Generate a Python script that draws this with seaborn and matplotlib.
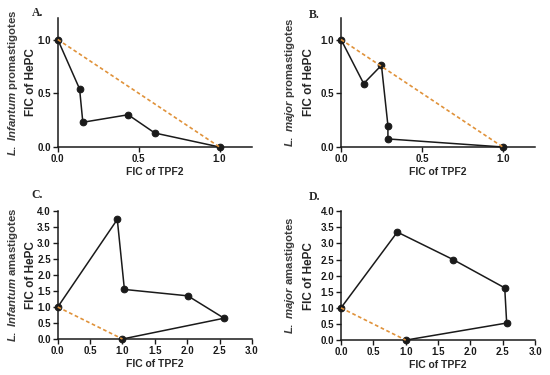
import matplotlib
matplotlib.use("Agg")
import matplotlib.pyplot as plt
import pandas as pd
import seaborn as sns

# isobologram points, in drawing order (FIC of TPF2, FIC of HePC)
a_x = [0.0, 0.135, 0.155, 0.435, 0.60, 1.0]
a_y = [1.0, 0.54, 0.23, 0.30, 0.13, 0.0]
b_x = [0.0, 0.14, 0.25, 0.29, 0.29, 1.0]
b_y = [1.0, 0.59, 0.76, 0.20, 0.075, 0.0]
c_x = [0.0, 0.92, 1.03, 2.01, 2.57, 1.0]
c_y = [1.0, 3.74, 1.55, 1.35, 0.65, 0.0]
d_x = [0.0, 0.87, 1.73, 2.53, 2.56, 1.0]
d_y = [1.0, 3.35, 2.50, 1.62, 0.53, 0.0]

additive_x = [0.0, 1.0]
additive_y = [1.0, 0.0]

panel_letters = ["A.", "B.", "C.", "D."]
species = ["Infantum", "major", "Infantum", "major"]
stages = ["promastigotes", "promastigotes", "amastigotes", "amastigotes"]

sns.set_style("ticks")
plt.rcParams["font.family"] = ["Liberation Sans", "DejaVu Sans"]
plt.rcParams["mathtext.fontset"] = "custom"
plt.rcParams["mathtext.it"] = "Liberation Sans:italic:bold"
plt.rcParams["mathtext.rm"] = "Liberation Sans:bold"

fig = plt.figure(figsize=(5.5, 3.75), dpi=100)
boxes = [
    (0.105, 0.608, 0.353, 0.344),
    (0.620, 0.608, 0.353, 0.344),
    (0.105, 0.096, 0.353, 0.341),
    (0.620, 0.093, 0.353, 0.344),
]
series = [(a_x, a_y), (b_x, b_y), (c_x, c_y), (d_x, d_y)]
species_x = [-0.232, -0.263, -0.232, -0.263]
ylabel_x = [-0.108, -0.134, -0.108, -0.134]
letter_pos = [(-0.077, 1.04), (-0.108, 1.02), (-0.077, 1.125), (-0.108, 1.11)]

for i, (box, (xs, ys)) in enumerate(zip(boxes, series)):
    ax = fig.add_axes(box)
    df = pd.DataFrame({"x": xs, "y": ys})
    sns.lineplot(data=df, x="x", y="y", sort=False, estimator=None, color="#1a1a1a",
                 lw=1.1, marker="o", markersize=4.8, markeredgecolor="#1a1a1a", ax=ax,
                 clip_on=False, zorder=3)
    add = pd.DataFrame({"x": additive_x, "y": additive_y})
    sns.lineplot(data=add, x="x", y="y", sort=False, estimator=None, color="#E0923A",
                 lw=1.2, ax=ax, clip_on=False, zorder=4)
    ax.lines[-1].set_linestyle((0, (2.2, 1.6)))
    if i < 2:
        ax.set_xlim(0, 1.2)
        ax.set_ylim(0, 1.2)
        ax.set_xticks([0.0, 0.5, 1.0])
        ax.set_yticks([0.0, 0.5, 1.0])
    else:
        ax.set_xlim(0, 3.0)
        ax.set_ylim(0, 4.0)
        ax.set_xticks([0.0, 0.5, 1.0, 1.5, 2.0, 2.5, 3.0])
        ax.set_yticks([0.0, 0.5, 1.0, 1.5, 2.0, 2.5, 3.0, 3.5, 4.0])
    ax.xaxis.set_major_formatter(matplotlib.ticker.FormatStrFormatter("%.1f"))
    ax.yaxis.set_major_formatter(matplotlib.ticker.FormatStrFormatter("%.1f"))
    sns.despine(ax=ax)
    for s in ["left", "bottom"]:
        ax.spines[s].set_linewidth(1.1)
        ax.spines[s].set_color("#1a1a1a")
    ax.tick_params(length=3.5, width=1.0, labelsize=7, pad=1.5, colors="#1a1a1a")
    for lab in ax.get_xticklabels() + ax.get_yticklabels():
        lab.set_fontweight("bold")
    ax.set_xlabel("FIC of TPF2", fontsize=7.5, fontweight="bold", labelpad=2)
    ax.set_ylabel("FIC of HePC", fontsize=8.5, fontweight="bold")
    ax.yaxis.set_label_coords(ylabel_x[i], 0.5)
    ax.text(species_x[i], 0.5, rf"$\it{{L.}}$ $\it{{{species[i]}}}$ {stages[i]}",
            transform=ax.transAxes, rotation=90, ha="center", va="center",
            fontsize=8.2, fontweight="bold", color="#3a3a3a")
    ax.text(letter_pos[i][0], letter_pos[i][1], panel_letters[i], transform=ax.transAxes,
            fontsize=8.5, fontweight="bold", family="Liberation Serif", ha="right", va="center")

fig.savefig("out.png", dpi=100)
